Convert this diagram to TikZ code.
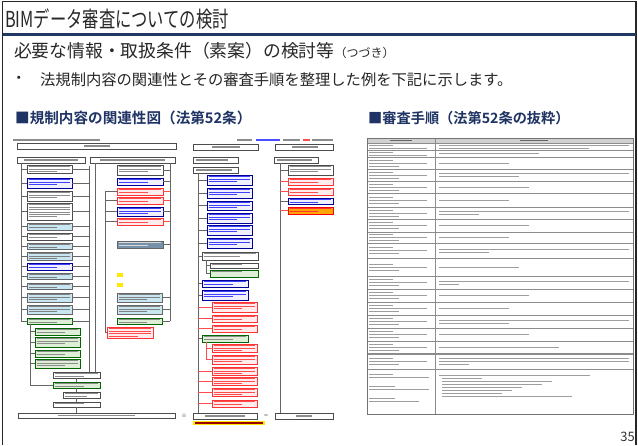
\documentclass[tikz,border=0pt]{standalone}
\usepackage{fontspec}
\setmainfont{Noto Sans CJK JP}[BoldFont={Noto Sans CJK JP Bold}]
\definecolor{navy}{RGB}{31,56,100}
\definecolor{hdc}{RGB}{31,52,100}
\definecolor{ttl}{RGB}{40,40,40}
\definecolor{lblue}{RGB}{200,230,242}
\definecolor{lgreen}{RGB}{222,238,215}
\definecolor{steel}{RGB}{120,145,170}
\newcommand\bx[7]{%
 \node[#6,anchor=north west,minimum width={(#4-#2)*1pt},minimum height={(#5-#3)*1pt}] (#1) at (#2,#3) {};%
 \ifnum#7>0 \foreach \k in {1,...,#7}{\draw[tl#6] ({#2+1.6},{#3+1.9+2.4*(\k-1)}) -- ({#4-1.6-(\k==#7)*0.3*(#4-#2)},{#3+1.9+2.4*(\k-1)});}\fi}
\begin{document}
\begin{tikzpicture}[x=1pt,y=-1pt,
 box/.style={draw,line width=0.45pt,inner sep=0pt,outer sep=0pt},
 bw/.style={box,draw=black!70,fill=white},
 bb/.style={box,draw=blue!60!black,fill=blue!6},
 br/.style={box,draw=red!80,fill=red!7},
 bc/.style={box,draw=black!60,fill=lblue},
 bg/.style={box,draw=green!40!black,fill=lgreen},
 bs/.style={box,draw=black!60,fill=steel},
 by/.style={box,draw=none,fill=yellow!90!orange},
 bo/.style={box,draw=red,fill=orange!70!yellow},
 tl/.style={line width=1.05pt},
 tlbw/.style={tl,draw=black!45},
 tlbb/.style={tl,draw=blue!75},
 tlbr/.style={tl,draw=red!70},
 tlbc/.style={tl,draw=black!50},
 tlbg/.style={tl,draw=black!45},
 tlbs/.style={tl,draw=white!85!black},
 tlby/.style={tl,draw=black!60},
 tlbo/.style={tl,draw=red!80},
 conn/.style={line width=0.5pt,draw=black!60},
 rconn/.style={line width=0.5pt,draw=red!70},
 tbl/.style={line width=0.4pt,draw=black!45},
 tlt/.style={line width=0.95pt,draw=black!38},
 tiny/.style={inner sep=0pt,font=\fontsize{5}{5}\selectfont,text=black!70}]
\useasboundingbox (0,0) rectangle (638,445);
\fill[white] (0,0) rectangle (638,445);
% frame and title bar
\draw[line width=1.3pt,black!85] (2.5,445) -- (2.5,1.5) -- (636,1.5) -- (636,445);
\fill[navy] (2.5,32.5) rectangle (636,35.5);
\node[anchor=west,inner sep=0pt,text=ttl] (title) at (5,19.5) {\scalebox{0.74}[1]{\fontsize{22}{22}\selectfont BIMデータ審査についての検討}};
\node[anchor=west,inner sep=0pt,text=ttl] (sub) at (14,51) {\fontsize{17.8}{17.8}\selectfont 必要な情報・取扱条件（素案）の検討等\fontsize{12}{12}\selectfont （つづき）};
\node[inner sep=0pt,text=black!85] (bul) at (19,80) {\fontsize{15}{15}\selectfont ・};
\node[anchor=west,inner sep=0pt,text=black!85] (btxt) at (40,80) {\fontsize{15.3}{15.3}\selectfont 法規制内容の関連性とその審査手順を整理した例を下記に示します。};
\node[anchor=west,inner sep=0pt,text=hdc] (h1) at (15,118) {\fontsize{14.6}{14.6}\selectfont\bfseries ■規制内容の関連性図（法第52条）};
\node[anchor=west,inner sep=0pt,text=hdc] (h2) at (368,118) {\fontsize{14.2}{14.2}\selectfont\bfseries ■審査手順（法第52条の抜粋）};
\node[anchor=east,inner sep=0pt,text=black!80] (pg) at (635,437) {\fontsize{13}{13}\selectfont 35};
% ---------- left diagram ----------
\draw[tl,black!45] (13,140) -- (100,140);
\draw[tl,black!45] (237,140) -- (252,140);
\draw[tl,blue!70] (256,140) -- (280,140);
\draw[tl,black!45] (283,140) -- (300,140);
\draw[tl,red!70] (303,140) -- (310,140);
\draw[tl,black!45] (312,140) -- (333,140);
\bx{T1}{17}{143}{176}{149}{bw}{0}
\bx{T2}{193}{144}{258}{150}{bw}{0}
\bx{T3}{275}{144}{333}{150}{bw}{0}
\draw[tlbw] (84,146) -- (110,146);
\draw[tlbw] (212,147) -- (240,147);
\draw[tlbw] (292,147) -- (318,147);
\bx{H1}{17}{157}{85}{163}{bw}{0}
\bx{H2}{90}{157}{175}{163}{bw}{0}
\bx{H3}{193}{157}{238}{163}{bw}{0}
\bx{H3b}{193}{167}{238}{173}{bw}{0}
\bx{H4}{274}{157}{318}{163}{bw}{0}
\draw[tlbw] (24,160) -- (78,160);
\draw[tlbw] (100,160) -- (165,160);
\draw[tlbw] (196,160) -- (228,160);
\draw[tlbw] (196,170) -- (232,170);
\draw[tlbw] (277,160) -- (312,160);
% column 1
\bx{a1}{27}{165}{72}{173}{bw}{3}
\bx{a2}{27}{178}{72}{188}{bb}{3}
\bx{a3}{27}{191}{72}{201}{bw}{3}
\bx{a4}{27}{203}{72}{220}{bw}{6}
\bx{a5}{27}{223}{72}{230}{bc}{2}
\bx{a6}{27}{233}{72}{240}{bw}{2}
\bx{a7}{27}{243}{72}{249}{bc}{2}
\bx{a8}{27}{252}{72}{260}{bc}{3}
\bx{a9}{27}{263}{72}{270}{bb}{2}
\bx{a10}{27}{273}{72}{279}{bc}{2}
\bx{a11}{27}{283}{72}{289}{bc}{2}
\bx{a12}{27}{293}{72}{302}{bc}{3}
\bx{a13}{27}{305}{72}{314}{bc}{3}
\bx{a14}{27}{318}{72}{324}{bg}{2}
\bx{a15}{35}{328}{80}{335}{bg}{2}
\bx{a16}{35}{337}{80}{347}{bg}{3}
\bx{a17}{35}{350}{80}{357}{bg}{2}
\bx{a18}{35}{359}{80}{368}{bg}{3}
\bx{a19}{53}{372}{100}{378}{bw}{2}
\bx{a20}{53}{382}{100}{388}{bg}{2}
\bx{a21}{63}{392}{100}{398}{bw}{2}
\bx{a22}{53}{402}{100}{407}{bw}{1}
\bx{A2}{18}{413}{175}{418}{bw}{0}
\draw[tlbw] (58,415.5) -- (135,415.5);
% column 2
\bx{b1}{117}{165}{163}{175}{bw}{3}
\bx{b2}{117}{178}{163}{185}{bb}{2}
\bx{b3}{117}{188}{163}{195}{br}{2}
\bx{b4}{117}{197}{163}{204}{br}{2}
\bx{b5}{117}{207}{163}{216}{bb}{3}
\bx{b6}{117}{218}{163}{225}{br}{2}
\bx{b7}{117}{241}{163}{248}{bs}{2}
\bx{b8}{117}{273}{123}{277}{by}{0}
\bx{b9}{117}{283}{123}{287}{by}{0}
\bx{b10}{117}{293}{162}{302}{bc}{3}
\bx{b11}{117}{305}{162}{314}{bc}{3}
\bx{b12}{117}{318}{162}{324}{bg}{2}
\bx{b13}{107}{327}{153}{338}{br}{4}
% column 3
\bx{d1}{207}{175}{252}{185}{bb}{3}
\bx{d2}{207}{188}{252}{198}{bb}{3}
\bx{d3}{207}{201}{252}{210}{bb}{3}
\bx{d4}{207}{213}{252}{223}{bb}{3}
\bx{d5}{207}{225}{252}{235}{bb}{3}
\bx{d6}{207}{238}{252}{248}{bb}{3}
\bx{d7}{202}{252}{258}{260}{bw}{2}
\bx{d8}{210}{263}{258}{268}{bw}{1}
\bx{d9}{210}{270}{258}{277}{bg}{1}
\bx{d10}{202}{280}{248}{287}{bb}{2}
\bx{d11}{202}{290}{248}{300}{bb}{3}
\bx{d12}{212}{302}{257}{312}{br}{3}
\bx{d13}{212}{315}{257}{322}{br}{2}
\bx{d14}{212}{325}{257}{332}{br}{2}
\bx{d15}{202}{335}{248}{342}{bg}{2}
\bx{d16}{212}{344}{257}{352}{br}{3}
\bx{d17}{212}{355}{257}{364}{br}{3}
\bx{d18}{212}{367}{257}{375}{br}{3}
\bx{d19}{212}{377}{257}{385}{br}{3}
\bx{d20}{212}{388}{257}{396}{br}{3}
\bx{d21}{212}{400}{257}{407}{br}{2}
\bx{B2}{193}{413}{257}{419}{bw}{0}
\draw[tlbw] (205,416) -- (245,416);
\bx{yl}{193}{421}{265}{425}{by}{0}
\draw[tl,red!60!black] (195,423) -- (263,423);
% column 4
\bx{e1}{288}{165}{333}{175}{bw}{3}
\bx{e2}{288}{178}{333}{185}{br}{2}
\bx{e3}{288}{188}{333}{195}{br}{2}
\bx{e4}{288}{198}{333}{204}{bb}{2}
\bx{e5}{288}{207}{333}{214}{bo}{2}
\bx{C2}{275}{413}{333}{419}{bw}{0}
\draw[tlbw] (296,416) -- (312,416);
\node[tiny] (eq1) at (184,416) {≡};
\node[tiny] (eq2) at (266,416) {＝};
% connectors column 1
\coordinate (p1) at (21,163);
\draw[conn] (p1) -- (p1 |- a14.west) -- (a14.west);
\foreach \n in {1,...,13} \draw[conn] (a\n.west) -- (a\n.west -| p1);
\coordinate (p2) at (89,166);
\draw[conn] (p2) -- (p2 |- a19.north);
\foreach \n in {1,...,14} \draw[conn] (a\n.east) -- (a\n.east -| p2);
\coordinate (p3) at (95,163);
\draw[conn] (p3) -- (p3 |- a19.north);
\coordinate (q1) at (30,324);
\draw[conn] (q1) -- (q1 |- a20.west) -- (a20.west);
\foreach \n in {15,...,18} \draw[conn] (a\n.west) -- (a\n.west -| q1);
\draw[conn] (a19.south) -- (a20.north);
\draw[conn] (a20.south) -- (a20.south |- a21.north);
\draw[conn] (a21.south -| a22.north) -- (a22.north);
\draw[conn] (a22.south) -- (a22.south |- A2.north);
% connectors column 2
\coordinate (p4) at (170,163);
\draw[conn] (p4) -- (p4 |- b12.east);
\foreach \n in {1,2,5,7,10,11,12} \draw[conn] (b\n.east) -- (b\n.east -| p4);
\foreach \n in {3,4,6} \draw[rconn] (b\n.east) -- (b\n.east -| p4);
\coordinate (p5) at (105,191.5);
\draw[conn] (p5) -- (p5 |- b13.west) -- (b13.west);
\foreach \n in {3,4,5,6} \draw[conn] (b\n.west) -- (b\n.west -| p5);
% connectors column 3
\coordinate (r1) at (198,173);
\draw[conn] (r1) -- (r1 |- B2.north);
\foreach \n in {1,...,7,10,11,15} \draw[conn] (d\n.west) -- (d\n.west -| r1);
\foreach \n in {12,13,14,18,19,20,21} \draw[rconn] (d\n.west) -- (d\n.west -| r1);
\coordinate (r2) at (206,260);
\draw[conn] (r2) -- (r2 |- d9.west);
\foreach \n in {8,9} \draw[conn] (d\n.west) -- (d\n.west -| r2);
\coordinate (r3) at (206,342);
\draw[rconn] (r3) -- (r3 |- d17.west);
\foreach \n in {16,17} \draw[rconn] (d\n.west) -- (d\n.west -| r3);
% connectors column 4
\coordinate (s1) at (280,163);
\draw[conn] (s1) -- (s1 |- C2.north);
\foreach \n in {1,4} \draw[conn] (e\n.west) -- (e\n.west -| s1);
\foreach \n in {2,3,5} \draw[rconn] (e\n.west) -- (e\n.west -| s1);
% ---------- right table ----------
\fill[black!18] (367,138) rectangle (633,143);
\draw[tl,black!60] (390,140.5) -- (412,140.5);
\draw[tl,black!60] (520,140.5) -- (548,140.5);
\draw[tbl] (367,143) -- (633,143);
\foreach \ya/\yb/\nl/\nr/\wr in {143/150/2/2/150,150/157/2/1/100,157/169/3/1/70,169/181/3/2/80,181/193/3/1/90,193/207/3/1/70,207/219/3/2/40,219/232/3/1/90,232/243/3/1/70,243/258/3/2/50,258/276/3/1/80,276/289/3/2/20,289/302/3/1/90,302/315/3/1/70,315/328/3/2/70,328/341/3/1/90,341/354/3/1/120,354/369/3/3/30}{
  \draw[tbl] (367,\yb) -- (633,\yb);
  \foreach \k in {1,...,\nl}{
    \pgfmathsetmacro\yy{(\ya+\yb)/2-(\nl-1)*1.5+(\k-1)*3}
    \pgfmathsetmacro\ww{\k==1?24:(\k==2?58:30)}
    \draw[tlt] (369,\yy) -- ({369+\ww},\yy);
  }
  \foreach \k in {1,...,\nr}{
    \pgfmathsetmacro\yy{(\ya+\yb)/2-(\nr-1)*1.5+(\k-1)*3}
    \pgfmathsetmacro\ww{\k==\nr?\wr:190}
    \draw[tlt] (439,\yy) -- ({439+\ww},\yy);
  }
}
\draw[tbl] (367,353.5) -- (633,353.5);
\foreach \yy/\ww in {374/24,377/60,386/26,389/60,398/26,401/50}
  \draw[tlt] (369,\yy) -- ({369+\ww},\yy);
\draw[tlt] (439,375) -- (590,375);
\foreach \yy/\ww in {378/40,381/110,384/100,387/80,390/70,393/60,396/130}
  \draw[tlt] (442,\yy) -- ({442+\ww},\yy);
\draw[tbl] (435,138) -- (435,414);
\draw[line width=0.6pt,black!55] (367,138) rectangle (633,414);
\end{tikzpicture}
\end{document}
